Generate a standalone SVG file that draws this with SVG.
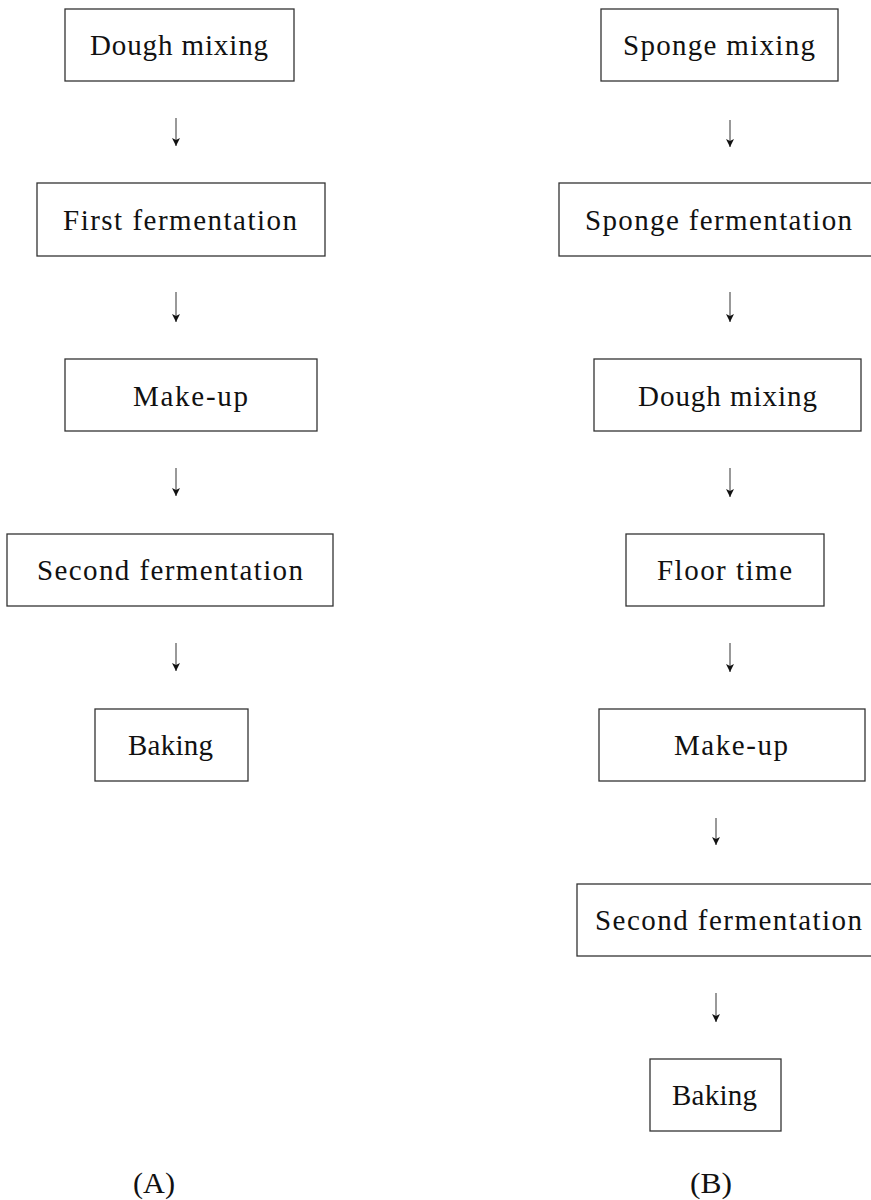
<svg xmlns="http://www.w3.org/2000/svg" width="871" height="1200" viewBox="0 0 871 1200">
<style>
.box{fill:#fff;stroke:#333;stroke-width:1.3}
.t{font-family:"Liberation Serif","DejaVu Serif",serif;font-size:29px;fill:#111}
.lbl{font-family:"Liberation Serif","DejaVu Serif",serif;font-size:29px;fill:#111}
.arr{stroke:#555;stroke-width:1.2;fill:none;marker-end:url(#ah)}
</style>
<defs>
<marker id="ah" markerWidth="10" markerHeight="10" viewBox="0 0 10 10" refX="9" refY="5" orient="auto" markerUnits="userSpaceOnUse">
<path d="M1,1 L9,5 L1,9 L3,5 Z" fill="#111"/>
</marker>
</defs>
<rect width="871" height="1200" fill="#fff"/>
<g id="connectors">
<line class="arr" x1="176" y1="118" x2="176" y2="146"/>
<line class="arr" x1="176" y1="292" x2="176" y2="322"/>
<line class="arr" x1="176" y1="468" x2="176" y2="496"/>
<line class="arr" x1="176" y1="643" x2="176" y2="671"/>
<line class="arr" x1="730" y1="120" x2="730" y2="147"/>
<line class="arr" x1="730" y1="292" x2="730" y2="322"/>
<line class="arr" x1="730" y1="468" x2="730" y2="497"/>
<line class="arr" x1="730" y1="643" x2="730" y2="672"/>
<line class="arr" x1="716" y1="818" x2="716" y2="845"/>
<line class="arr" x1="716" y1="993" x2="716" y2="1022"/>
</g>
<g id="a1"><rect class="box" x="65" y="9" width="229" height="72"/><text class="t" x="90" y="55" textLength="178" lengthAdjust="spacing">Dough mixing</text></g>
<g id="a2"><rect class="box" x="37" y="183" width="288" height="73"/><text class="t" x="63" y="230" textLength="234" lengthAdjust="spacing">First fermentation</text></g>
<g id="a3"><rect class="box" x="65" y="359" width="252" height="72"/><text class="t" x="133" y="405.5" textLength="115" lengthAdjust="spacing">Make-up</text></g>
<g id="a4"><rect class="box" x="7" y="534" width="326" height="72"/><text class="t" x="37" y="580" textLength="266" lengthAdjust="spacing">Second fermentation</text></g>
<g id="a5"><rect class="box" x="95" y="709" width="153" height="72"/><text class="t" x="128" y="755" textLength="85" lengthAdjust="spacing">Baking</text></g>
<g id="b1"><rect class="box" x="601" y="9" width="237" height="72"/><text class="t" x="623" y="55" textLength="192" lengthAdjust="spacing">Sponge mixing</text></g>
<g id="b2"><rect class="box" x="559" y="183" width="330" height="73"/><text class="t" x="585" y="230" textLength="267" lengthAdjust="spacing">Sponge fermentation</text></g>
<g id="b3"><rect class="box" x="594" y="359" width="267" height="72"/><text class="t" x="638" y="405.5" textLength="179" lengthAdjust="spacing">Dough mixing</text></g>
<g id="b4"><rect class="box" x="626" y="534" width="198" height="72"/><text class="t" x="657" y="580" textLength="135" lengthAdjust="spacing">Floor time</text></g>
<g id="b5"><rect class="box" x="599" y="709" width="266" height="72"/><text class="t" x="674" y="755" textLength="114" lengthAdjust="spacing">Make-up</text></g>
<g id="b6"><rect class="box" x="577" y="884" width="320" height="72"/><text class="t" x="595" y="930" textLength="267" lengthAdjust="spacing">Second fermentation</text></g>
<g id="b7"><rect class="box" x="650" y="1059" width="131" height="72"/><text class="t" x="672" y="1105" textLength="85" lengthAdjust="spacing">Baking</text></g>
<g id="labels">
<text class="lbl" x="133" y="1193" textLength="42" lengthAdjust="spacingAndGlyphs">(A)</text>
<text class="lbl" x="690" y="1193" textLength="42" lengthAdjust="spacingAndGlyphs">(B)</text>
</g>
</svg>
